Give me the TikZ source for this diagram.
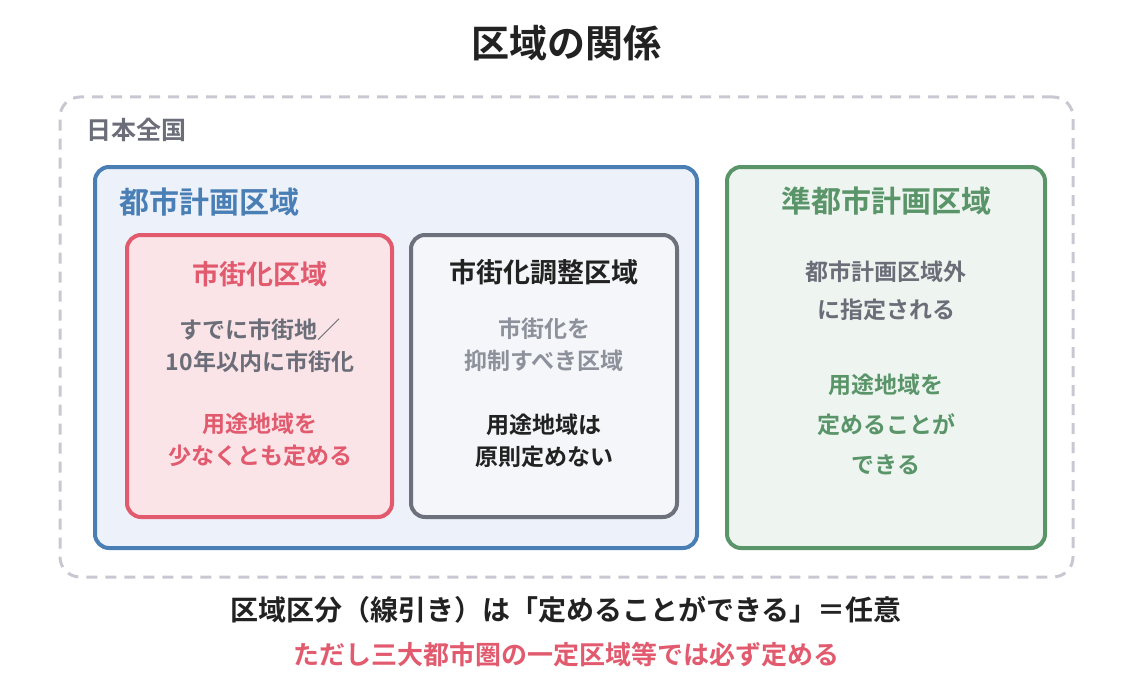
\documentclass[tikz,border=0pt]{standalone}
\usepackage{fontspec}
\setmainfont{Noto Sans CJK JP}[BoldFont={Noto Sans CJK JP Bold}]
\usetikzlibrary{positioning}
\definecolor{nationgrey}{RGB}{200,200,210}
\definecolor{labelgrey}{RGB}{107,110,120}
\definecolor{planblue}{RGB}{74,127,181}
\definecolor{planbluebg}{RGB}{237,242,250}
\definecolor{urbanred}{RGB}{226,90,110}
\definecolor{urbanredbg}{RGB}{250,228,232}
\definecolor{ctrlgrey}{RGB}{108,113,124}
\definecolor{ctrlbg}{RGB}{245,246,249}
\definecolor{quasigreen}{RGB}{90,148,105}
\definecolor{quasibg}{RGB}{238,245,240}
\definecolor{inkdark}{RGB}{34,34,34}
\definecolor{paletext}{RGB}{140,145,155}
\newcommand{\fsz}[2]{\fontsize{#1}{#2}\selectfont}

\begin{document}
\begin{tikzpicture}[x=1pt, y=-1pt,
    zonebox/.style={rounded corners=14pt, line width=4pt, inner sep=0pt, outer sep=0pt,
      anchor=north west},
    boxtitle/.style={font=\bfseries\fsz{27}{32}, inner sep=0pt},
    bodytext/.style={font=\bfseries\fsz{23}{32}, align=center, inner sep=0pt},
    ruletext/.style={font=\bfseries\fsz{23}{32}, align=center, inner sep=0pt}]

    \useasboundingbox (0,0) rectangle (1132,690);

    % Title
    \node[font=\bfseries\fsz{38}{42}, text=inkdark] (title) at (566,43) {区域の関係};

    % Whole country (dashed frame)
    \node[zonebox, draw=nationgrey, line width=3pt, dash pattern=on 11pt off 8pt,
      rounded corners=20pt, minimum width=1013pt, minimum height=480pt] (nation) at (60,97) {};
    \node[font=\bfseries\fsz{25}{28}, text=labelgrey, anchor=west, inner sep=0pt]
      (nationlabel) at (86,130) {日本全国};

    % City planning area
    \node[zonebox, draw=planblue, fill=planbluebg,
      minimum width=602pt, minimum height=381pt] (plan) at (95,167) {};
    \node[font=\bfseries\fsz{30}{34}, text=planblue, anchor=west, inner sep=0pt]
      (planlabel) at (119,202) {都市計画区域};

    % Urbanization promotion area
    \node[zonebox, draw=urbanred, fill=urbanredbg,
      minimum width=265pt, minimum height=282pt] (urban) at (127,235) {};
    \node[boxtitle, text=urbanred] (urbantitle) at (260,274) {市街化区域};
    \node[bodytext, text=labelgrey] (urbandesc) at (260,346)
      {すでに市街地／\\10年以内に市街化};
    \node[ruletext, text=urbanred] (urbanrule) at (260,440)
      {用途地域を\\少なくとも定める};

    % Urbanization control area
    \node[zonebox, draw=ctrlgrey, fill=ctrlbg,
      minimum width=266pt, minimum height=282pt] (control) at (411,235) {};
    \node[boxtitle, text=inkdark] (controltitle) at (544,272) {市街化調整区域};
    \node[bodytext, text=paletext] (controldesc) at (544,345)
      {市街化を\\抑制すべき区域};
    \node[ruletext, text=inkdark] (controlrule) at (544,441)
      {用途地域は\\原則定めない};

    % Quasi city planning area
    \node[zonebox, draw=quasigreen, fill=quasibg,
      minimum width=318pt, minimum height=381pt] (quasi) at (727,167) {};
    \node[font=\bfseries\fsz{30}{34}, text=quasigreen, inner sep=0pt]
      (quasititle) at (886,201) {準都市計画区域};
    \node[bodytext, text=labelgrey, font=\bfseries\fsz{23}{38}] (quasidesc) at (886,291)
      {都市計画区域外\\に指定される};
    \node[ruletext, text=quasigreen, font=\bfseries\fsz{23}{40}] (quasirule) at (886,424)
      {用途地域を\\定めることが\\できる};

    % Notes below
    \node[font=\bfseries\fsz{28}{30}, text=inkdark] (note) at (566,610)
      {区域区分（線引き）は「定めることができる」＝任意};
    \node[font=\bfseries\fsz{26}{28}, text=urbanred] (caveat) at (566,655)
      {ただし三大都市圏の一定区域等では必ず定める};

\end{tikzpicture}
\end{document}
